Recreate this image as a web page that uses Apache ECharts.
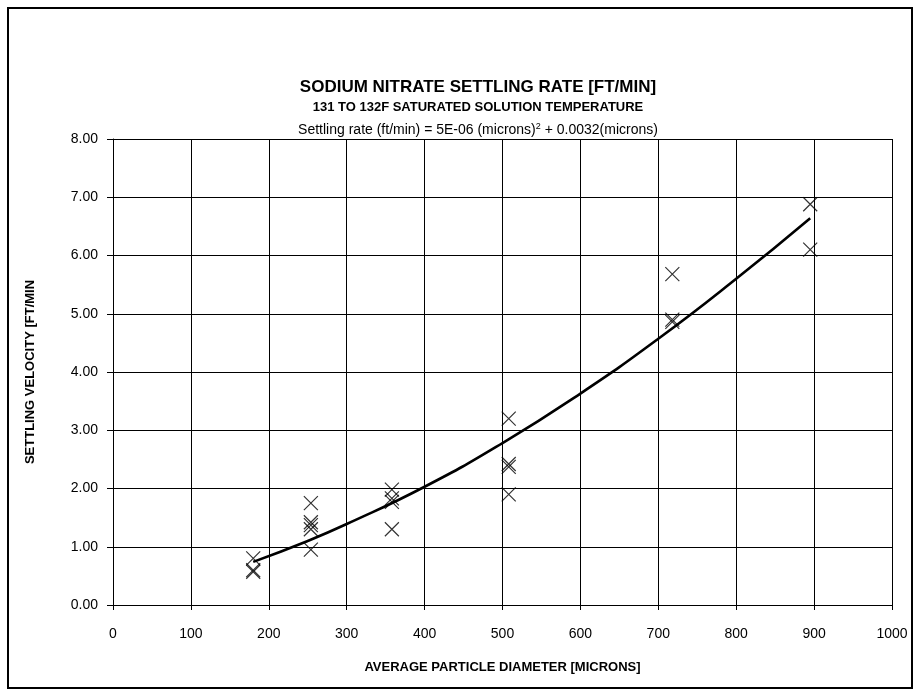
<!DOCTYPE html>
<html>
<head>
    <meta charset="utf-8">
    <title>Sodium nitrate settling rate</title>
    <script type="text/javascript" src="https://cdn.jsdelivr.net/npm/echarts@6/dist/echarts.min.js"></script>
    <style>
        *{
            margin:0;
            padding:0;
        }
        #main{
            width:919px;
            height:694px;
            background:#fff;
        }
    </style>
</head>
<body>
<div id="main"></div>
<script type="text/javascript">
    // measured settling data, grouped by sieve size (microns)
    var diameters = [180, 180, 180,
        254, 254, 254, 254, 254,
        358, 358, 358, 358,
        508, 508, 508, 508,
        718, 718, 718,
        895, 895];
    var velocities = [0.80, 0.60, 0.57,
        1.75, 1.42, 1.37, 1.30, 0.95,
        1.98, 1.83, 1.77, 1.30,
        3.20, 2.42, 2.37, 1.90,
        5.68, 4.90, 4.86,
        6.88, 6.10];

    // polynomial trendline
    var trendX = [180, 250, 300, 400, 500, 600, 700, 800, 895];
    var trendY = [0.74, 1.10, 1.39, 2.03, 2.78, 3.63, 4.57, 5.60, 6.64];

    var xTicks = [0, 100, 200, 300, 400, 500, 600, 700, 800, 900, 1000];
    var yTicks = [0, 1, 2, 3, 4, 5, 6, 7, 8];

    var points = diameters.map(function (d, i) { return [d, velocities[i]]; });
    var trend = trendX.map(function (d, i) { return [d, trendY[i]]; });

    var font = 'Liberation Sans, Arial, sans-serif';
    var crossPath = 'path://M0,0L10,10M10,0L0,10';

    var myChart = echarts.init(document.getElementById('main'));
    var option = {
        animation: false,
        backgroundColor: '#fff',
        title: [
            {
                text: 'SODIUM NITRATE SETTLING RATE [FT/MIN]',
                left: 473, top: 74, textAlign: 'center',
                textStyle: {fontFamily: font, fontSize: 17, fontWeight: 'bold', color: '#000'}
            },
            {
                text: '131 TO 132F SATURATED SOLUTION TEMPERATURE',
                left: 473, top: 96, textAlign: 'center',
                textStyle: {fontFamily: font, fontSize: 13, fontWeight: 'bold', color: '#000'}
            },
            {
                text: 'Settling rate (ft/min) = 5E-06 (microns){sup|2} + 0.0032(microns)',
                left: 473, top: 117, textAlign: 'center',
                textStyle: {
                    fontFamily: font, fontSize: 14, fontWeight: 'normal', color: '#000',
                    rich: {
                        sup: {fontFamily: font, fontSize: 9, fontWeight: 'normal', color: '#000',
                            verticalAlign: 'top', padding: [0, 0, 8, 0]}
                    }
                }
            }
        ],
        graphic: [{
            type: 'rect',
            shape: {x: 8, y: 8, width: 904, height: 680},
            style: {fill: 'none', stroke: '#000', lineWidth: 2},
            silent: true
        }],
        grid: {left: 113, right: 27, top: 139, bottom: 89},
        xAxis: {
            type: 'value', min: 0, max: 1000, interval: 100,
            name: 'AVERAGE PARTICLE DIAMETER [MICRONS]',
            nameLocation: 'middle', nameGap: 56,
            nameTextStyle: {fontFamily: font, fontSize: 13, fontWeight: 'bold', color: '#000'},
            axisLine: {onZero: false, lineStyle: {color: '#000', width: 1}},
            axisTick: {show: true, length: 5, lineStyle: {color: '#000'}},
            axisLabel: {fontFamily: font, fontSize: 14, color: '#000', margin: 22,
                formatter: function (v) { return xTicks.indexOf(v) >= 0 ? String(v) : ''; }},
            splitLine: {show: true, lineStyle: {color: '#000', width: 1}}
        },
        yAxis: {
            type: 'value', min: 0, max: 8, interval: 1,
            name: 'SETTLING VELOCITY [FT/MIN',
            nameLocation: 'middle', nameGap: 76, nameRotate: 90,
            nameTextStyle: {fontFamily: font, fontSize: 13, fontWeight: 'bold', color: '#000'},
            axisLine: {show: true, lineStyle: {color: '#000', width: 1}},
            axisTick: {show: true, length: 6, lineStyle: {color: '#000'}},
            axisLabel: {fontFamily: font, fontSize: 14, color: '#000', margin: 15,
                formatter: function (v) { return yTicks.indexOf(v) >= 0 ? v.toFixed(2) : ''; }},
            splitLine: {show: true, lineStyle: {color: '#000', width: 1}}
        },
        series: [
            {
                name: 'measured',
                type: 'scatter',
                data: points,
                symbol: crossPath,
                symbolSize: 14,
                itemStyle: {color: 'rgba(0,0,0,0)', borderColor: '#000', borderWidth: 1.2},
                z: 3
            },
            {
                name: 'trend',
                type: 'line',
                data: trend,
                smooth: true,
                showSymbol: false,
                lineStyle: {color: '#000', width: 2.6},
                z: 4
            }
        ]
    };
    myChart.setOption(option);
</script>
</body>
</html>
